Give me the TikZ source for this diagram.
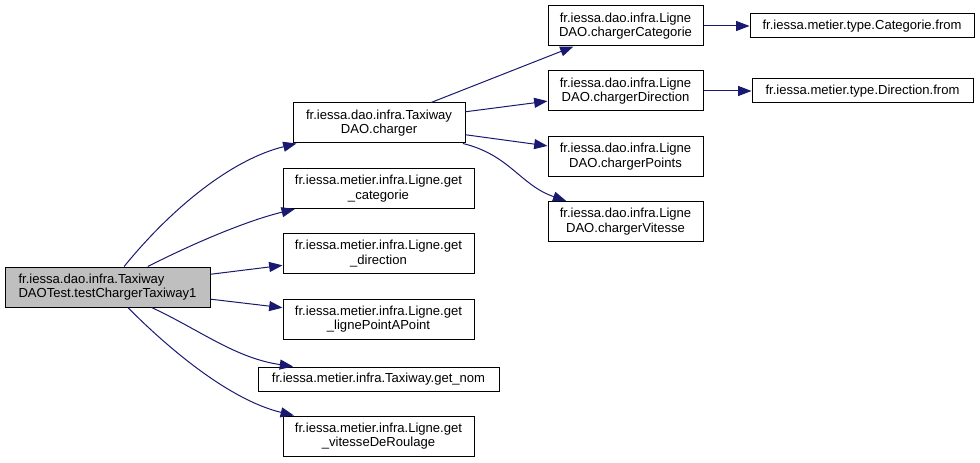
\documentclass[tikz,border=0pt]{standalone}
\usepackage{fontspec}
\setmainfont{Liberation Sans}
\usetikzlibrary{arrows.meta}
\definecolor{EdgeBlue}{HTML}{191970}
\definecolor{RootGray}{HTML}{BFBFBF}
\tikzset{
  fn/.style={draw, fill=white, align=center, inner sep=2pt, line width=0.75pt,
             font=\fontsize{9.8}{10.8}\selectfont, minimum height=30pt},
  fnone/.style={fn, minimum height=18pt},
  rootfn/.style={fn, fill=RootGray, align=left},
  call/.style={-{Triangle[length=10pt, width=7.5pt]}, draw=EdgeBlue,
               line width=0.75pt},
}

\begin{document}
\begin{tikzpicture}[x=0.75pt, y=-0.75pt]
  \useasboundingbox (0,0) rectangle (980,463);

  % ---- caller ----
  \node[rootfn, minimum width=153.75pt] (root) at (107.5,287)
       {fr.iessa.dao.infra.Taxiway\\DAOTest.testChargerTaxiway1};

  % ---- first level callees ----
  \node[fn, minimum width=129pt] (charger) at (379,123)
       {fr.iessa.dao.infra.Taxiway\\DAO.charger};
  \node[fn, minimum width=143.25pt] (getcat) at (378.5,188.5)
       {fr.iessa.metier.infra.Ligne.get\\\_categorie};
  \node[fn, minimum width=143.25pt] (getdir) at (378.5,253.5)
       {fr.iessa.metier.infra.Ligne.get\\\_direction};
  \node[fn, minimum width=143.25pt] (getlpp) at (378.5,319)
       {fr.iessa.metier.infra.Ligne.get\\\_lignePointAPoint};
  \node[fnone, minimum width=180.75pt] (getnom) at (378.5,379)
       {fr.iessa.metier.infra.Taxiway.get\_nom};
  \node[fn, minimum width=143.25pt] (getvit) at (378.5,436)
       {fr.iessa.metier.infra.Ligne.get\\\_vitesseDeRoulage};

  % ---- LigneDAO loaders ----
  \node[fn, minimum width=116.25pt] (chcat) at (625.5,26)
       {fr.iessa.dao.infra.Ligne\\DAO.chargerCategorie};
  \node[fn, minimum width=116.25pt] (chdir) at (625.5,91)
       {fr.iessa.dao.infra.Ligne\\DAO.chargerDirection};
  \node[fn, minimum width=116.25pt] (chpts) at (625.5,156.5)
       {fr.iessa.dao.infra.Ligne\\DAO.chargerPoints};
  \node[fn, minimum width=116.25pt] (chvit) at (625.5,221.5)
       {fr.iessa.dao.infra.Ligne\\DAO.chargerVitesse};

  % ---- type lookups ----
  \node[fnone, minimum width=168pt] (catfrom) at (862,26)
       {fr.iessa.metier.type.Categorie.from};
  \node[fnone, minimum width=165.75pt] (dirfrom) at (862.5,91)
       {fr.iessa.metier.type.Direction.from};

  % ---- calls ----
  \draw[call] (root) .. controls (170,210) and (230,160) .. (charger);
  \draw[call] (root) .. controls (200,240) and (250,220) .. (getcat);
  \draw[call] (root) -- (getdir);
  \draw[call] (root) -- (getlpp);
  \draw[call] (root) .. controls (200,330) and (235,358) .. (getnom);
  \draw[call] (root) .. controls (170,350) and (230,400) .. (getvit);

  \draw[call] (charger) -- (chcat);
  \draw[call] (charger) -- (chdir);
  \draw[call] (charger) -- (chpts);
  \draw[call] (charger) .. controls (510,155) and (520,185) .. (chvit);

  \draw[call] (chcat) -- (catfrom);
  \draw[call] (chdir) -- (dirfrom);
\end{tikzpicture}
\end{document}
